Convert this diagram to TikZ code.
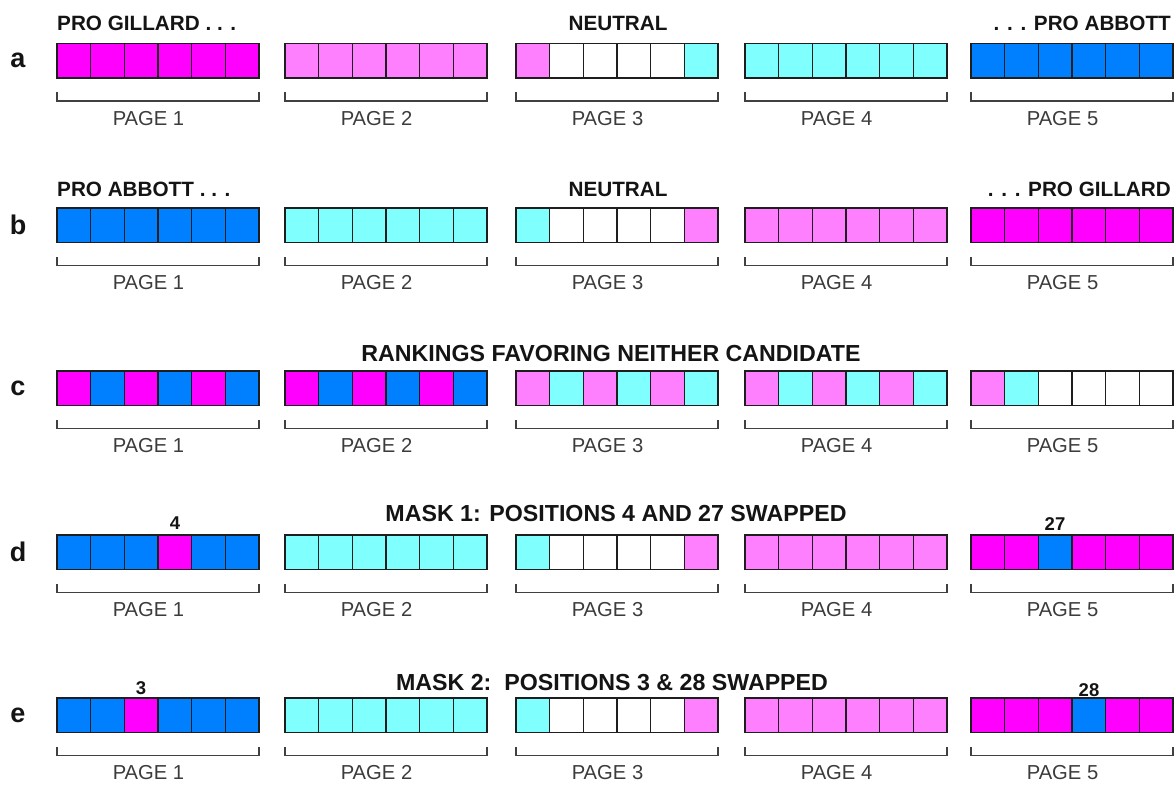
\documentclass[tikz,border=0pt]{standalone}
\usepackage{fontspec}
\setmainfont{Liberation Sans}
\definecolor{cM}{HTML}{FF00FF}
\definecolor{cL}{HTML}{FF80FF}
\definecolor{cC}{HTML}{80FFFF}
\definecolor{cB}{HTML}{0080FF}
\definecolor{cW}{HTML}{FFFFFF}
\definecolor{edgecol}{HTML}{1E1E1E}
\definecolor{lblcol}{HTML}{3C3C3C}
\definecolor{txtcol}{HTML}{141414}
\newcommand\mkpage[4]{%
  \foreach \cc [count=\ii from 0] in {#4} {
    \node[cell, fill=c\cc] (#1-\ii) at ({#2+\ii*33.67+16.83},{#3+17.25}) {};
  }%
}
\newcommand\mkbracket[4]{%
  \draw[brk] ({#2},{#3+49}) -- ({#2},{#3+57.5}) -- ({#2+202},{#3+57.5}) -- ({#2+202},{#3+49});
  \node[pagelbl] (#1) at ({#2+91.5},{#3+75}) {PAGE #4};
}
\newcommand\mkrow[7]{%
  \node[rowlet] (r#1) at (18,{#2+17.25}) {#1};
  \mkpage{#1p1}{57}{#2}{#3}
  \mkpage{#1p2}{285}{#2}{#4}
  \mkpage{#1p3}{516}{#2}{#5}
  \mkpage{#1p4}{745}{#2}{#6}
  \mkpage{#1p5}{971}{#2}{#7}
  \mkbracket{#1b1}{57}{#2}{1}
  \mkbracket{#1b2}{285}{#2}{2}
  \mkbracket{#1b3}{516}{#2}{3}
  \mkbracket{#1b4}{745}{#2}{4}
  \mkbracket{#1b5}{971}{#2}{5}
}
\begin{document}
\begin{tikzpicture}[x=1pt,y=-1pt,
  cell/.style={draw=edgecol, line width=1.1pt, minimum width=33.67pt, minimum height=34.5pt, inner sep=0pt, outer sep=0pt},
  brk/.style={draw=black!75, line width=1.4pt},
  pagelbl/.style={inner sep=0pt, text=lblcol, font=\fontsize{20.2}{21}\selectfont},
  rowlet/.style={inner sep=0pt, text=txtcol, font=\fontsize{27}{28}\selectfont\bfseries},
  ttl/.style={inner sep=0pt, text=txtcol, font=\fontsize{20.7}{22}\selectfont\bfseries},
  bigttl/.style={inner sep=0pt, text=txtcol, font=\fontsize{23.2}{24}\selectfont\bfseries},
  numlbl/.style={inner sep=0pt, text=txtcol, font=\fontsize{18.5}{19}\selectfont\bfseries}]
\useasboundingbox (0,0) rectangle (1174,786);
\fill[white] (0,0) rectangle (1174,786);
% row a
\mkrow{a}{43.5}{M,M,M,M,M,M}{L,L,L,L,L,L}{L,W,W,W,W,C}{C,C,C,C,C,C}{B,B,B,B,B,B}
\node[ttl, anchor=west] (ta1) at (57,23.5) {PRO GILLARD . . .};
\node[ttl] (ta2) at (618,23.5) {NEUTRAL};
\node[ttl, anchor=east] (ta3) at (1171,23.5) {. . . PRO ABBOTT};
% row b
\mkrow{b}{208}{B,B,B,B,B,B}{C,C,C,C,C,C}{C,W,W,W,W,L}{L,L,L,L,L,L}{M,M,M,M,M,M}
\node[ttl, anchor=west] (tb1) at (57,189) {PRO ABBOTT . . .};
\node[ttl] (tb2) at (618,189) {NEUTRAL};
\node[ttl, anchor=east] (tb3) at (1171,189) {. . . PRO GILLARD};
% row c
\mkrow{c}{371}{M,B,M,B,M,B}{M,B,M,B,M,B}{L,C,L,C,L,C}{L,C,L,C,L,C}{L,C,W,W,W,W}
\node[bigttl] (tc) at (611,354) {RANKINGS FAVORING NEITHER CANDIDATE};
% row d
\mkrow{d}{535}{B,B,B,M,B,B}{C,C,C,C,C,C}{C,W,W,W,W,L}{L,L,L,L,L,L}{M,M,B,M,M,M}
\node[bigttl] (td) at (616,514) {MASK 1: POSITIONS 4 AND 27 SWAPPED};
\node[numlbl] (nd1) at (175,523.5) {4};
\node[numlbl] (nd2) at (1055,524) {27};
% row e
\mkrow{e}{698}{B,B,M,B,B,B}{C,C,C,C,C,C}{C,W,W,W,W,L}{L,L,L,L,L,L}{M,M,M,B,M,M}
\node[bigttl] (te) at (612,682.5) {MASK 2:\ \ POSITIONS 3 \& 28 SWAPPED};
\node[numlbl] (ne1) at (141,688) {3};
\node[numlbl] (ne2) at (1089,690) {28};
\end{tikzpicture}
\end{document}
